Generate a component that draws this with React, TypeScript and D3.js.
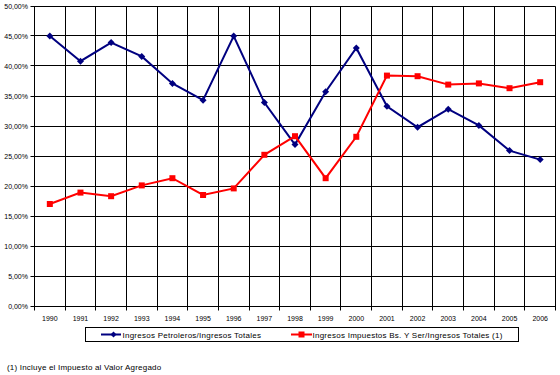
import React from 'react';
import { scaleBand, scaleLinear, line, range } from 'd3';

const years = ['1990', '1991', '1992', '1993', '1994', '1995', '1996', '1997', '1998', '1999', '2000', '2001', '2002', '2003', '2004', '2005', '2006'];
const petroleros = [45.0, 40.8, 43.9, 41.6, 37.1, 34.3, 45.0, 33.9, 26.9, 35.7, 43.0, 33.3, 29.8, 32.8, 30.1, 25.9, 24.4];
const impuestos = [17.0, 18.9, 18.3, 20.1, 21.3, 18.5, 19.6, 25.2, 28.3, 21.3, 28.2, 38.4, 38.3, 36.9, 37.1, 36.3, 37.3];
const yTicks = [0, 5, 10, 15, 20, 25, 30, 35, 40, 45, 50];
const seriesNames = ['Ingresos Petroleros/Ingresos Totales', 'Ingresos Impuestos Bs. Y Ser/Ingresos Totales  (1)'];
const footnote = '(1) Incluye el Impuesto al Valor Agregado';

const W = 560;
const H = 375;
const left = 34.5;
const right = 555.5;
const font = 'Arial, "Liberation Sans", sans-serif';
const navy = '#000080';
const red = '#FF0000';

const fmt = (v: number) => v.toFixed(2).replace('.', ',') + '%';

export default function App() {
  const x = scaleBand<string>().domain(years).range([left, right]).padding(0);
  const y = scaleLinear().domain([0, 50]).range([306, 6]);
  const cx = (d: string) => (x(d) ?? 0) + x.bandwidth() / 2;
  const crisp = (v: number) => Math.round(v - 0.5) + 0.5;

  const mkLine = line<number>()
    .x((_, i) => cx(years[i]))
    .y(v => y(v));

  const boundaries = range(years.length + 1).map(i => crisp(left + i * x.bandwidth()));

  return (
    <svg width={W} height={H} style={{ position: 'absolute', left: 0, top: 0, background: '#fff' }}>
      {/* horizontal grid + left ticks */}
      {yTicks.map(t => (
        <g key={t}>
          <line x1={left - 4} x2={right} y1={crisp(y(t))} y2={crisp(y(t))} stroke="#000" strokeWidth={1} />
          <text x={28} y={y(t) + 2.5} textAnchor="end" fontFamily={font} fontSize={7} fill="#000">
            {fmt(t)}
          </text>
        </g>
      ))}
      {/* vertical grid + bottom ticks */}
      {boundaries.map((bx, i) => (
        <line key={i} x1={bx} x2={bx} y1={crisp(y(50))} y2={crisp(y(0)) + 4} stroke="#000" strokeWidth={1} />
      ))}
      {years.map(yr => (
        <text key={yr} x={cx(yr)} y={321} textAnchor="middle" fontFamily={font} fontSize={7} fill="#000">
          {yr}
        </text>
      ))}

      {/* series */}
      <path d={mkLine(petroleros) ?? ''} fill="none" stroke={navy} strokeWidth={2} />
      {petroleros.map((v, i) => {
        const px = cx(years[i]);
        const py = y(v);
        return <path key={i} d={`M${px},${py - 3.5}L${px + 3.5},${py}L${px},${py + 3.5}L${px - 3.5},${py}Z`} fill={navy} />;
      })}
      <path d={mkLine(impuestos) ?? ''} fill="none" stroke={red} strokeWidth={2} />
      {impuestos.map((v, i) => (
        <rect key={i} x={cx(years[i]) - 3} y={y(v) - 3} width={6} height={6} fill={red} />
      ))}

      {/* legend */}
      <rect x={85.5} y={327.5} width={433} height={14} fill="#fff" stroke="#000" strokeWidth={1} />
      <line x1={101} x2={121} y1={334.5} y2={334.5} stroke={navy} strokeWidth={2} />
      <path d="M113.5,331.5L116.5,334.5L113.5,337.5L110.5,334.5Z" fill={navy} />
      <text x={122.5} y={337.5} fontFamily={font} fontSize={8} letterSpacing={0.25} fill="#000">{seriesNames[0]}</text>
      <line x1={291} x2={312} y1={334.5} y2={334.5} stroke={red} strokeWidth={2} />
      <rect x={298.5} y={331.5} width={6} height={6} fill={red} />
      <text x={312.5} y={337.5} fontFamily={font} fontSize={8} letterSpacing={0.25} fill="#000">{seriesNames[1]}</text>

      <text x={7} y={370} fontFamily={font} fontSize={8} letterSpacing={0.2} fill="#000">{footnote}</text>
    </svg>
  );
}
